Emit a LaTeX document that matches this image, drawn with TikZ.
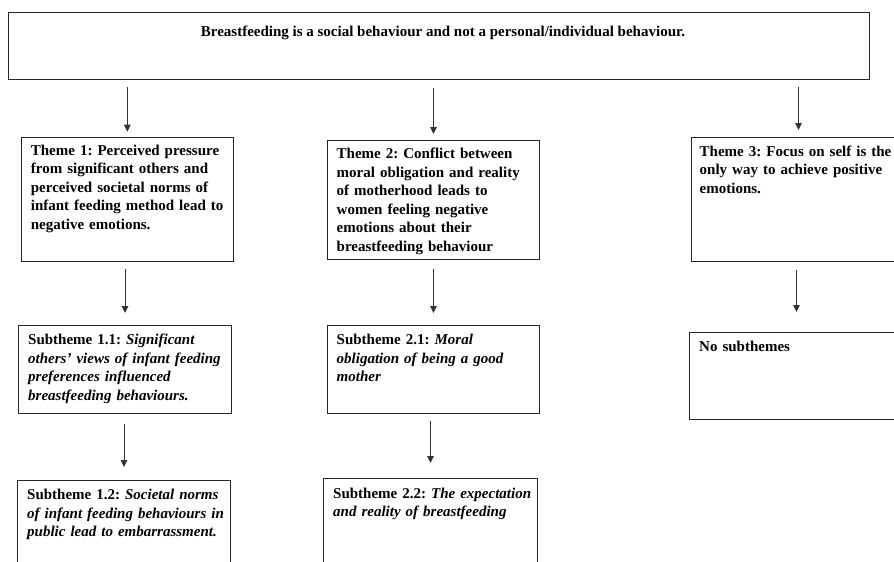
\documentclass[tikz,border=0pt]{standalone}
\usepackage{fontspec}
\setmainfont{Liberation Serif}
\usetikzlibrary{arrows.meta,calc}
\frenchspacing
\tikzset{
  box/.style={draw=black!85, line width=1pt, rectangle, inner sep=0pt, anchor=north west},
  txt/.style={inner sep=0pt, anchor=base west, align=left, text width=215pt,
    font=\fontsize{15}{18.5}\selectfont\bfseries\frenchspacing},
  arr/.style={draw=black!80, line width=1pt, -{Triangle[length=7pt,width=6.5pt]}}
}
\begin{document}
\begin{tikzpicture}[x=1pt,y=-1pt]
\useasboundingbox (0,0) rectangle (894,562);
\clip (0,0) rectangle (894,562);
\fill[white] (0,0) rectangle (894,562);
% boxes
\node[box, minimum width=861pt, minimum height=67pt] (top) at (8,12) {};
\node[box, minimum width=212.3pt, minimum height=124pt] (t1) at (20.7,136.7) {};
\node[box, minimum width=212pt, minimum height=119pt] (t2) at (327,140) {};
\node[box, minimum width=214pt, minimum height=124pt] (t3) at (691,137) {};
\node[box, minimum width=213pt, minimum height=88pt] (s11) at (18,325) {};
\node[box, minimum width=213pt, minimum height=120pt] (s12) at (17,480) {};
\node[box, minimum width=212pt, minimum height=88pt] (s21) at (327,325) {};
\node[box, minimum width=214pt, minimum height=122pt] (s22) at (323,478) {};
\node[box, minimum width=214pt, minimum height=87pt] (no) at (689,332) {};
% texts
\node[inner sep=0pt, anchor=base, font=\fontsize{15}{18.5}\selectfont\bfseries\frenchspacing] (toptext) at ($(top.north)+(4,24)$)
  {Breastfeeding is a social behaviour and not a personal/individual behaviour.};
\node[txt] (t1text) at ($(t1.north west)+(10,18.5)$)
  {Theme 1: Perceived pressure\\ from significant others and\\ perceived societal norms of\\ infant feeding method lead to\\ negative emotions.};
\node[txt] (t2text) at ($(t2.north west)+(9.5,18.5)$)
  {Theme 2: Conflict between\\ moral obligation and reality\\ of motherhood leads to\\ women feeling negative\\ emotions about their\\ breastfeeding behaviour};
\node[txt] (t3text) at ($(t3.north west)+(8.5,19)$)
  {Theme 3: Focus on self is the\\ only way to achieve positive\\ emotions.};
\node[txt] (s11text) at ($(s11.north west)+(10,19.5)$)
  {Subtheme 1.1: \textit{Significant}\\ \textit{others' views of infant feeding}\\ \textit{preferences influenced}\\ \textit{breastfeeding behaviours.}};
\node[txt] (s12text) at ($(s12.north west)+(10,19.5)$)
  {Subtheme 1.2: \textit{Societal norms}\\ \textit{of infant feeding behaviours in}\\ \textit{public lead to embarrassment.}};
\node[txt] (s21text) at ($(s21.north west)+(9.5,19.5)$)
  {Subtheme 2.1: \textit{Moral}\\ \textit{obligation of being a good}\\ \textit{mother}};
\node[txt] (s22text) at ($(s22.north west)+(10,20)$)
  {Subtheme 2.2: \textit{The expectation}\\ \textit{and reality of breastfeeding}};
\node[txt] (notext) at ($(no.north west)+(10,19)$) {No subthemes};
% arrows
\draw[arr, shorten <=7pt, shorten >=5pt] (top.south -| t1.north) -- (t1.north);
\draw[arr, shorten <=8pt, shorten >=6pt] (top.south -| t2.north) -- (t2.north);
\draw[arr, shorten <=7pt, shorten >=7pt] (top.south -| t3.north) -- (t3.north);
\draw[arr, shorten <=7pt, shorten >=12pt] (t1.south -| s11.north) -- (s11.north);
\draw[arr, shorten <=10pt, shorten >=13pt] (s11.south -| s12.north) -- (s12.north);
\draw[arr, shorten <=9pt, shorten >=12pt] (t2.south -| s21.north) -- (s21.north);
\draw[arr, shorten <=7pt, shorten >=15pt] (s21.south -| s22.north) -- (s22.north);
\draw[arr, shorten <=8pt, shorten >=20pt] (t3.south -| no.north) -- (no.north);
\end{tikzpicture}
\end{document}
